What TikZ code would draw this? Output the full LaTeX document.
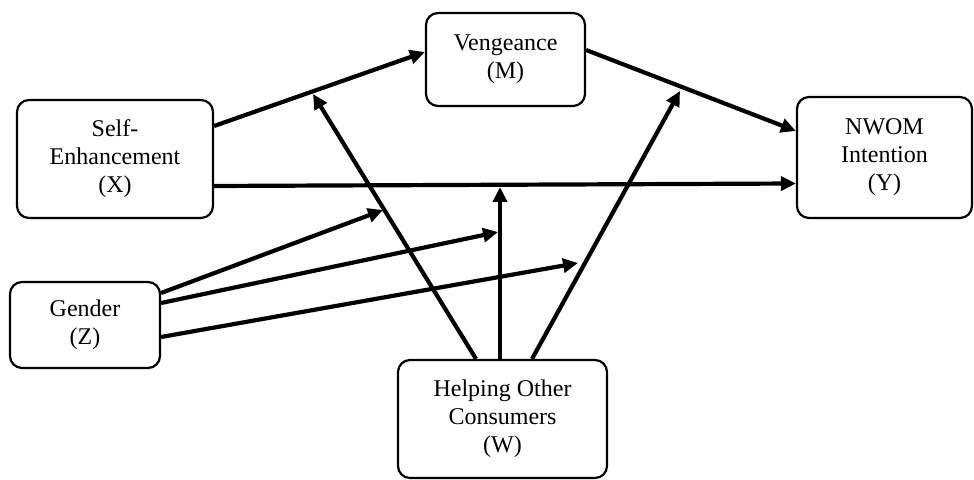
\documentclass[tikz,border=0pt]{standalone}
\usepackage{fontspec}
\setmainfont{Liberation Serif}
\usetikzlibrary{arrows.meta}

\begin{document}
\begin{tikzpicture}[x=0.5pt,y=-0.5pt,
  box/.style={draw,line width=1.1pt,rounded corners=6pt,align=center,inner sep=0pt,
    font=\fontsize{12}{14}\selectfont},
  link/.style={-{Triangle[length=7.5pt,width=7pt]},line width=2.1pt}]
\useasboundingbox (0,0) rectangle (974,480);

\node[box,minimum width=98pt,minimum height=59pt] (X) at (115,159) {Self-\\Enhancement\\(X)};
\node[box,minimum width=79.5pt,minimum height=46.5pt] (M) at (505.5,59.5) {Vengeance\\(M)};
\node[box,minimum width=87.5pt,minimum height=60.5pt] (Y) at (884.5,157.5) {NWOM\\Intention\\(Y)};
\node[box,minimum width=75pt,minimum height=43pt] (Z) at (85,325) {Gender\\(Z)};
\node[box,minimum width=104.5pt,minimum height=59pt] (W) at (502.5,419) {Helping Other\\Consumers\\(W)};

% points where the moderating arrows end
\coordinate (xm) at (313,94);
\coordinate (xy) at (500,187);
\coordinate (my) at (680,91);
\coordinate (zxm) at (383,210);
\coordinate (zxy) at (498,232);
\coordinate (zmy) at (578,263);

\draw[link] ([yshift=16.5pt]X.east) -- ([yshift=3.75pt]M.west);
\draw[link] ([yshift=4.75pt]M.east) -- ([yshift=13.25pt]Y.west);
\draw[link] ([yshift=-13.5pt]X.east) -- ([yshift=-13pt]Y.west);

\draw[link] ([xshift=-13.25pt]W.north) -- (xm);
\draw[link] ([xshift=-1.25pt]W.north) -- (xy);
\draw[link] ([xshift=14.75pt]W.north) -- (my);

\draw[link] ([yshift=16pt]Z.east) -- (zxm);
\draw[link] ([yshift=11pt]Z.east) -- (zxy);
\draw[link] ([yshift=-6pt]Z.east) -- (zmy);
\end{tikzpicture}
\end{document}
